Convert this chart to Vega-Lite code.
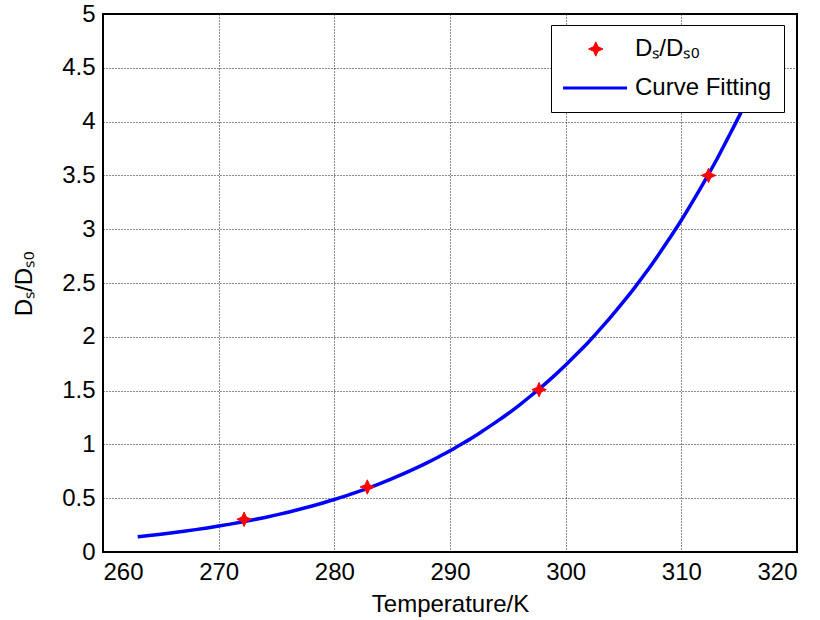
{
  "$schema": "https://vega.github.io/schema/vega-lite/v6.json",
  "width": 694,
  "height": 538,
  "autosize": "none",
  "padding": {"left": 103, "top": 14, "right": 23, "bottom": 68},
  "background": "white",
  "config": {
    "font": "Liberation Sans",
    "view": {"stroke": "black", "strokeWidth": 2},
    "axis": {
      "domain": false,
      "ticks": false,
      "grid": true,
      "gridColor": "black",
      "gridDash": [1, 2],
      "gridWidth": 1,
      "gridOpacity": 0.9,
      "labelFont": "Liberation Sans",
      "labelFontSize": 24,
      "labelColor": "black",
      "titleFont": "Liberation Sans",
      "titleFontSize": 24,
      "titleFontWeight": "normal",
      "titleColor": "black"
    },
    "legend": {
      "labelFont": "Liberation Sans",
      "labelFontSize": 24,
      "labelColor": "black"
    }
  },
  "datasets": {
    "pts": [
      {"T": 272.2, "ratio": 0.304, "series": "Dₛ/Dₛ₀"},
      {"T": 282.85, "ratio": 0.604, "series": "Dₛ/Dₛ₀"},
      {"T": 297.7, "ratio": 1.509, "series": "Dₛ/Dₛ₀"},
      {"T": 312.35, "ratio": 3.5, "series": "Dₛ/Dₛ₀"}
    ],
    "fit": [
      {"T": 263, "ratio": 0.1424, "series": "Curve Fitting"},
      {"T": 264, "ratio": 0.1538, "series": "Curve Fitting"},
      {"T": 265, "ratio": 0.166, "series": "Curve Fitting"},
      {"T": 266, "ratio": 0.1791, "series": "Curve Fitting"},
      {"T": 267, "ratio": 0.193, "series": "Curve Fitting"},
      {"T": 268, "ratio": 0.2079, "series": "Curve Fitting"},
      {"T": 269, "ratio": 0.2238, "series": "Curve Fitting"},
      {"T": 270, "ratio": 0.241, "series": "Curve Fitting"},
      {"T": 271, "ratio": 0.2592, "series": "Curve Fitting"},
      {"T": 272, "ratio": 0.2786, "series": "Curve Fitting"},
      {"T": 273, "ratio": 0.2994, "series": "Curve Fitting"},
      {"T": 274, "ratio": 0.3214, "series": "Curve Fitting"},
      {"T": 275, "ratio": 0.3451, "series": "Curve Fitting"},
      {"T": 276, "ratio": 0.3701, "series": "Curve Fitting"},
      {"T": 277, "ratio": 0.3969, "series": "Curve Fitting"},
      {"T": 278, "ratio": 0.4253, "series": "Curve Fitting"},
      {"T": 279, "ratio": 0.4557, "series": "Curve Fitting"},
      {"T": 280, "ratio": 0.4877, "series": "Curve Fitting"},
      {"T": 281, "ratio": 0.522, "series": "Curve Fitting"},
      {"T": 282, "ratio": 0.5588, "series": "Curve Fitting"},
      {"T": 283, "ratio": 0.5969, "series": "Curve Fitting"},
      {"T": 284, "ratio": 0.6383, "series": "Curve Fitting"},
      {"T": 285, "ratio": 0.6818, "series": "Curve Fitting"},
      {"T": 286, "ratio": 0.7276, "series": "Curve Fitting"},
      {"T": 287, "ratio": 0.7765, "series": "Curve Fitting"},
      {"T": 288, "ratio": 0.8286, "series": "Curve Fitting"},
      {"T": 289, "ratio": 0.8834, "series": "Curve Fitting"},
      {"T": 290, "ratio": 0.9408, "series": "Curve Fitting"},
      {"T": 291, "ratio": 1.003, "series": "Curve Fitting"},
      {"T": 292, "ratio": 1.067, "series": "Curve Fitting"},
      {"T": 293, "ratio": 1.137, "series": "Curve Fitting"},
      {"T": 294, "ratio": 1.209, "series": "Curve Fitting"},
      {"T": 295, "ratio": 1.285, "series": "Curve Fitting"},
      {"T": 296, "ratio": 1.366, "series": "Curve Fitting"},
      {"T": 297, "ratio": 1.452, "series": "Curve Fitting"},
      {"T": 298, "ratio": 1.542, "series": "Curve Fitting"},
      {"T": 299, "ratio": 1.637, "series": "Curve Fitting"},
      {"T": 300, "ratio": 1.738, "series": "Curve Fitting"},
      {"T": 301, "ratio": 1.844, "series": "Curve Fitting"},
      {"T": 302, "ratio": 1.954, "series": "Curve Fitting"},
      {"T": 303, "ratio": 2.073, "series": "Curve Fitting"},
      {"T": 304, "ratio": 2.197, "series": "Curve Fitting"},
      {"T": 305, "ratio": 2.326, "series": "Curve Fitting"},
      {"T": 306, "ratio": 2.462, "series": "Curve Fitting"},
      {"T": 307, "ratio": 2.606, "series": "Curve Fitting"},
      {"T": 308, "ratio": 2.759, "series": "Curve Fitting"},
      {"T": 309, "ratio": 2.918, "series": "Curve Fitting"},
      {"T": 310, "ratio": 3.083, "series": "Curve Fitting"},
      {"T": 311, "ratio": 3.261, "series": "Curve Fitting"},
      {"T": 312, "ratio": 3.445, "series": "Curve Fitting"},
      {"T": 313, "ratio": 3.636, "series": "Curve Fitting"},
      {"T": 314, "ratio": 3.842, "series": "Curve Fitting"},
      {"T": 315, "ratio": 4.051, "series": "Curve Fitting"},
      {"T": 315.3, "ratio": 4.116, "series": "Curve Fitting"}
    ]
  },
  "encoding": {
    "x": {
      "field": "T",
      "type": "quantitative",
      "scale": {"domain": [260, 320], "nice": false, "zero": false},
      "axis": {"values": [260, 270, 280, 290, 300, 310, 320], "title": "Temperature/K", "labelPadding": 8, "titlePadding": 8}
    },
    "y": {
      "field": "ratio",
      "type": "quantitative",
      "scale": {"domain": [0, 5], "nice": false},
      "axis": {"values": [0, 0.5, 1, 1.5, 2, 2.5, 3, 3.5, 4, 4.5, 5], "format": "~g", "title": "Dₛ/Dₛ₀", "labelPadding": 8, "titlePadding": 25}
    },
    "color": {
      "field": "series",
      "type": "nominal",
      "scale": {"domain": ["Dₛ/Dₛ₀", "Curve Fitting"], "range": ["#ff0000", "#0000ff"]},
      "legend": {
        "title": null,
        "orient": "none",
        "legendX": 448,
        "legendY": 11,
        "fillColor": "white",
        "strokeColor": "black",
        "padding": 12,
        "rowPadding": 15,
        "symbolSize": 256,
        "labelOffset": 48,
        "encode": {
          "symbols": {
            "update": {
              "shape": {"signal": "datum.value === 'Curve Fitting' ? 'M-1.5,0H6.5' : 'M2.6,-0.9L2.88,-0.28L3.5,0L2.88,0.28L2.6,0.9L2.32,0.28L1.7,0L2.32,-0.28Z'"},
              "size": {"value": 256},
              "stroke": {"signal": "datum.value === 'Curve Fitting' ? '#0000ff' : '#ff0000'"},
              "fill": {"signal": "datum.value === 'Curve Fitting' ? '#0000ff' : '#ff0000'"},
              "strokeWidth": {"signal": "datum.value === 'Curve Fitting' ? 3 : 1"},
              "opacity": {"value": 1}
            }
          }
        }
      }
    }
  },
  "layer": [
    {
      "data": {"name": "fit"},
      "mark": {"type": "line", "strokeWidth": 3.5, "interpolate": "monotone"}
    },
    {
      "data": {"name": "pts"},
      "mark": {
        "type": "point",
        "filled": true,
        "opacity": 1,
        "size": 256,
        "stroke": "#ff0000",
        "strokeWidth": 1,
        "shape": "M0,-0.9L0.28,-0.28L0.9,0L0.28,0.28L0,0.9L-0.28,0.28L-0.9,0L-0.28,-0.28Z"
      }
    }
  ]
}
